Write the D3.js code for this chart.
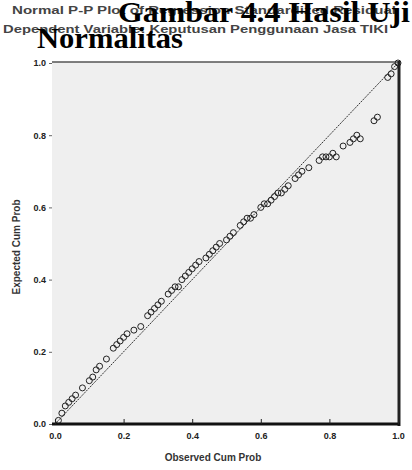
<!DOCTYPE html>
<html lang="en">
<head>
<meta charset="UTF-8">
<title>pp-plot</title>
<script src="https://cdn.jsdelivr.net/npm/d3@7"></script>
<style>
  body { margin: 0; background: #fff; }
  svg { display: block; }
</style>
</head>
<body>
<svg width="412" height="470" id="mainsvg"></svg>
<script>
// data
const observed = [0.01, 0.02, 0.03, 0.04, 0.05, 0.06, 0.08, 0.10, 0.11, 0.12, 0.13, 0.15, 0.17, 0.18,
  0.19, 0.20, 0.21, 0.23, 0.25, 0.27, 0.28, 0.29, 0.30, 0.31, 0.33, 0.34, 0.35, 0.36, 0.37, 0.38,
  0.39, 0.40, 0.41, 0.42, 0.44, 0.45, 0.46, 0.47, 0.48, 0.50, 0.51, 0.52, 0.54, 0.55, 0.56, 0.57,
  0.58, 0.60, 0.61, 0.62, 0.63, 0.64, 0.65, 0.66, 0.67, 0.68, 0.70, 0.71, 0.72, 0.74, 0.77, 0.78,
  0.79, 0.80, 0.81, 0.82, 0.84, 0.86, 0.87, 0.88, 0.89, 0.93, 0.94, 0.97, 0.98, 0.99, 1.00];
const expected = [0.01, 0.03, 0.05, 0.06, 0.07, 0.08, 0.10, 0.12, 0.13, 0.15, 0.16, 0.18, 0.21, 0.22,
  0.23, 0.24, 0.25, 0.26, 0.27, 0.30, 0.31, 0.32, 0.33, 0.34, 0.36, 0.37, 0.38, 0.38, 0.40, 0.41,
  0.42, 0.43, 0.44, 0.45, 0.46, 0.47, 0.48, 0.49, 0.50, 0.51, 0.52, 0.53, 0.55, 0.56, 0.57, 0.57,
  0.58, 0.60, 0.61, 0.61, 0.62, 0.63, 0.64, 0.64, 0.65, 0.66, 0.68, 0.69, 0.70, 0.71, 0.73, 0.74,
  0.74, 0.74, 0.75, 0.74, 0.77, 0.78, 0.79, 0.80, 0.79, 0.84, 0.85, 0.96, 0.97, 0.99, 1.00];
const ticks = [0.0, 0.2, 0.4, 0.6, 0.8, 1.0];
const chartTitle = 'Normal P-P Plot of Regression Standardized Residual';
const chartSub = 'Dependent Variable: Keputusan Penggunaan Jasa TIKI';

const svg = d3.select('#mainsvg');
const x = d3.scaleLinear().domain([0, 1]).range([55, 398]);
const y = d3.scaleLinear().domain([0, 1]).range([424, 63]);

// plot background + frame
svg.append('rect').attr('x', 52).attr('y', 62).attr('width', 346).attr('height', 362)
  .attr('fill', '#efefef');
svg.append('line').attr('x1', 52).attr('x2', 398).attr('y1', 62).attr('y2', 62)
  .attr('stroke', '#555').attr('stroke-width', 1.5);
svg.append('line').attr('x1', 399).attr('x2', 399).attr('y1', 61).attr('y2', 426)
  .attr('stroke', '#222').attr('stroke-width', 3);

// diagonal
svg.append('line').attr('x1', x(0)).attr('y1', y(0)).attr('x2', x(1)).attr('y2', y(1))
  .attr('stroke', '#333').attr('stroke-width', 1).attr('stroke-dasharray', '2,1');

// points
svg.append('g').selectAll('circle').data(observed).join('circle')
  .attr('cx', d => x(d)).attr('cy', (d, i) => y(expected[i])).attr('r', 3)
  .attr('fill', 'none').attr('stroke', '#222').attr('stroke-width', 1);

// axes
const xAxis = svg.append('g').attr('transform', 'translate(0,424)')
  .call(d3.axisBottom(x).tickValues(ticks).tickFormat(d3.format('.1f')).tickSizeInner(-5).tickSizeOuter(0));
xAxis.select('.domain').attr('stroke', '#111').attr('stroke-width', 3).attr('d', 'M52,0H400');
xAxis.selectAll('.tick line').attr('stroke', '#222');
xAxis.selectAll('.tick text').attr('y', 9);

const yAxis = svg.append('g').attr('transform', 'translate(52,0)')
  .call(d3.axisLeft(y).tickValues(ticks).tickFormat(d3.format('.1f')).tickSize(3));
yAxis.select('.domain').remove();
yAxis.selectAll('.tick line').attr('stroke', '#666');

svg.selectAll('.tick text').attr('font-family', 'Arial, Liberation Sans, sans-serif')
  .attr('font-size', 9).attr('font-weight', 'bold').attr('fill', '#222');

// axis titles
svg.append('text').attr('x', 213).attr('y', 461).attr('text-anchor', 'middle')
  .attr('font-family', 'Liberation Sans, sans-serif').attr('font-size', 10).attr('font-weight', 'bold')
  .attr('fill', '#333').text('Observed Cum Prob');
svg.append('text').attr('transform', 'translate(20,247) rotate(-90)').attr('text-anchor', 'middle')
  .attr('font-family', 'Liberation Sans, sans-serif').attr('font-size', 10).attr('font-weight', 'bold')
  .attr('fill', '#333').text('Expected Cum Prob');

// SPSS titles
svg.append('text').attr('x', 12).attr('y', 14).attr('textLength', 384).attr('lengthAdjust', 'spacingAndGlyphs')
  .attr('font-family', 'Liberation Sans, sans-serif').attr('font-size', 10).attr('font-weight', 'bold')
  .attr('fill', '#444').text(chartTitle);
svg.append('text').attr('x', 3).attr('y', 33).attr('textLength', 385).attr('lengthAdjust', 'spacingAndGlyphs')
  .attr('font-family', 'Liberation Sans, sans-serif').attr('font-size', 10).attr('font-weight', 'bold')
  .attr('fill', '#444').text(chartSub);

// document caption over the top
svg.append('text').attr('x', 118).attr('y', 22).attr('textLength', 292).attr('lengthAdjust', 'spacingAndGlyphs')
  .attr('font-family', 'Liberation Serif, Times New Roman, serif').attr('font-size', 29).attr('font-weight', 'bold')
  .attr('fill', '#000').text('Gambar 4.4 Hasil Uji');
svg.append('text').attr('x', 37).attr('y', 48).attr('textLength', 146).attr('lengthAdjust', 'spacingAndGlyphs')
  .attr('font-family', 'Liberation Serif, Times New Roman, serif').attr('font-size', 29).attr('font-weight', 'bold')
  .attr('fill', '#000').text('Normalitas');
</script>
</body>
</html>
